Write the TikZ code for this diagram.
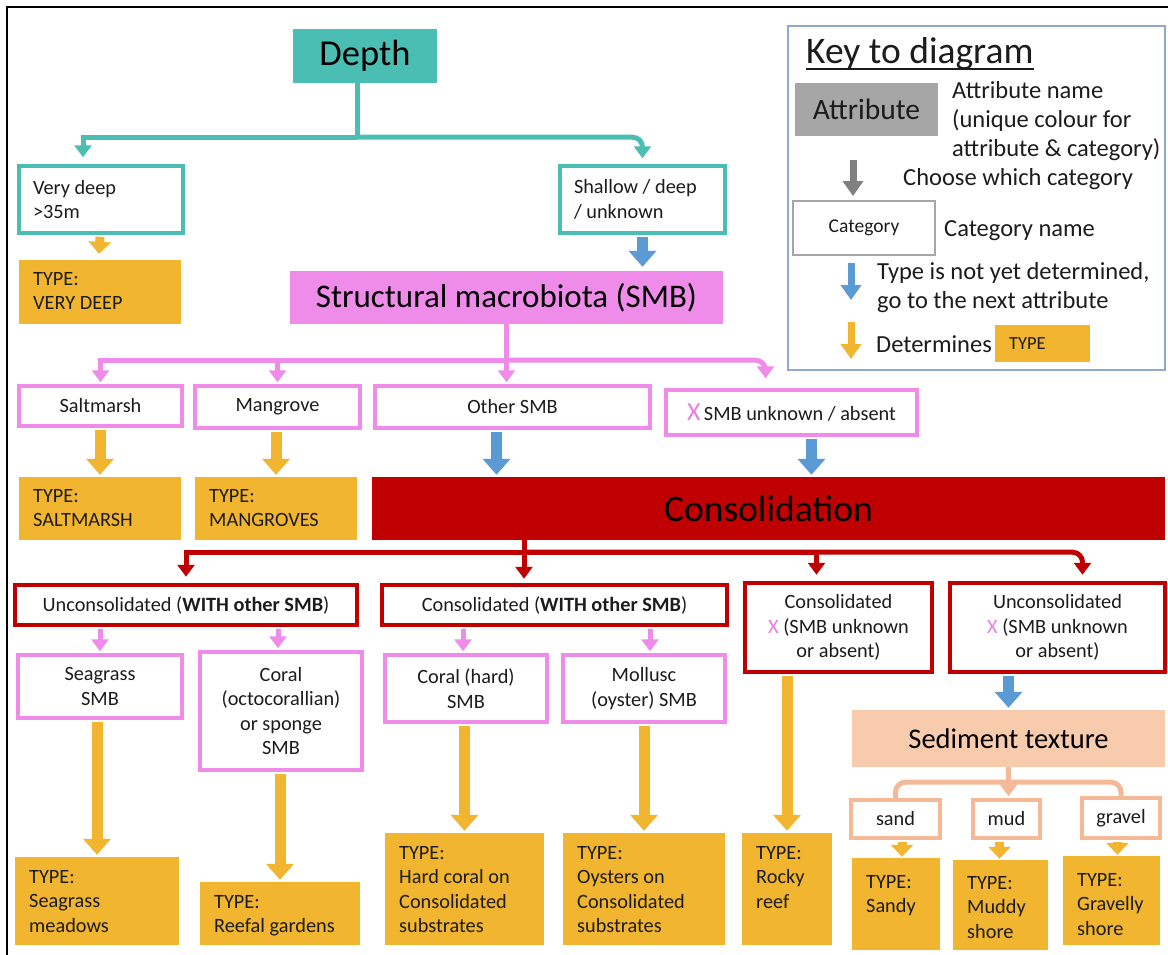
\documentclass[tikz,border=0pt]{standalone}
\usepackage{fontspec}
\setmainfont{Carlito}
\usetikzlibrary{arrows.meta}

\definecolor{ink}{HTML}{1C1C1C}
\definecolor{tealc}{HTML}{4BBEB4}
\definecolor{pinkc}{HTML}{EF8CE9}
\definecolor{pinkx}{HTML}{EA7FE3}
\definecolor{redc}{HTML}{C00000}
\definecolor{peachc}{HTML}{F8CBAD}
\definecolor{peachd}{HTML}{F4BA98}
\definecolor{typec}{HTML}{F1B52F}
\definecolor{bluec}{HTML}{5B9BD5}
\definecolor{greyc}{HTML}{A6A6A6}
\definecolor{greyd}{HTML}{808080}
\definecolor{keyc}{HTML}{8FA8CF}

\newcommand\fsm{\fontsize{20.3}{24.5}\selectfont}
\newcommand\fkey{\fontsize{24.5}{29}\selectfont}

% box from its corners: name, x1, y1, x2, y2, style, text
\newcommand\bx[7]{%
  \pgfmathsetmacro\boxw{#4-#2}%
  \pgfmathsetmacro\boxh{#5-#3}%
  \pgfmathsetmacro\boxtw{#4-#2-28}%
  \node[minimum width=\boxw pt, minimum height=\boxh pt, #6] (#1) at ({(#2+#4)/2},{(#3+#5)/2}) {#7};}
% TYPE box with top-aligned text: name, x1, y1, x2, y2, text offset, text
\newcommand\tb[7]{%
  \bx{#1}{#2}{#3}{#4}{#5}{typefill}{}%
  \node[typetext] (#1t) at (#2+14,#3+#6) {#7};}

\begin{document}
\begin{tikzpicture}[x=1pt,y=-1pt,
  every node/.style={inner sep=0pt, text=ink},
  catbox/.style={draw=#1, fill=white, line width=3.5pt, font=\fsm, align=center},
  lefttext/.style={align=flush left, text width=\boxtw pt, inner xsep=14pt},
  typefill/.style={fill=typec},
  typetext/.style={font=\fsm, align=flush left, anchor=north west},
  link/.style={draw=#1, line width=5pt},
  headed/.style={-{Triangle[width=17pt,length=12pt]}},
  blockarrow/.style={draw=#1, line width=11pt, -{Triangle[width=27pt,length=16pt]}},
  smallblock/.style={draw=#1, line width=9pt, -{Triangle[width=22pt,length=12pt]}},
  keyarrow/.style={draw=#1, line width=7pt, -{Triangle[width=20pt,length=15pt]}},
]
\useasboundingbox (0,0) rectangle (1168,954);
\fill[white] (0,0) rectangle (1168,954);
\draw[line width=2.5pt, black] (7,7) rectangle (1180,970);

% ---------- key ----------
\bx{key}{788}{26}{1165}{370}{draw=keyc, line width=1.5pt}{}
\node[anchor=base west, font=\fontsize{37.5}{44}\selectfont] (keyt) at (806,63) {Key to diagram};
\draw[line width=2.5pt, ink] ([yshift=-6pt]keyt.base west) -- ([yshift=-6pt]keyt.base east);
\bx{kattr}{795}{83}{938}{136}{fill=greyc, font=\fontsize{29.5}{34}\selectfont}{Attribute}
\node[anchor=west, align=flush left, font=\fkey] (kattrt) at (952,121) {Attribute name\\(unique colour for\\attribute \& category)};
\coordinate (kg1) at (853,160); \coordinate (kg2) at (853,196);
\draw[keyarrow=greyd] (kg1) -- (kg2);
\node[anchor=west, font=\fkey] (kchoose) at (903,179) {Choose which category};
\bx{kcat}{793}{201}{935}{255}{draw=greyc, line width=1.2pt, font=\fontsize{19.5}{23}\selectfont}{Category}
\node[anchor=west, font=\fkey] (kcatt) at (944,231) {Category name};
\coordinate (kb1) at (851,263); \coordinate (kb2) at (851,300);
\draw[keyarrow=bluec] (kb1) -- (kb2);
\node[anchor=west, align=flush left, font=\fkey] (kbluet) at (877,288) {Type is not yet determined,\\go to the next attribute};
\coordinate (ko1) at (851,322); \coordinate (ko2) at (851,359);
\draw[keyarrow=typec] (ko1) -- (ko2);
\node[anchor=west, font=\fkey] (kdet) at (876,344) {Determines};
\bx{ktype}{995}{325}{1090}{362}{fill=typec, lefttext, font=\fontsize{18.5}{22}\selectfont}{TYPE}

% ---------- depth ----------
\bx{depth}{293}{29}{437}{83}{fill=tealc, font=\fontsize{36.5}{42}\selectfont, text=black}{Depth}
\bx{vdeep}{19}{166}{183}{233}{catbox=tealc, lefttext}{Very deep\\>35m}
\bx{shallow}{560}{166}{725}{233}{catbox=tealc, lefttext}{Shallow / deep\\/ unknown}
\tb{tvdeep}{19}{260}{181}{324}{12}{TYPE:\\VERY DEEP}
\bx{smb}{290}{271}{723}{324}{fill=pinkc, font=\fontsize{33}{40}\selectfont, text=black}{Structural macrobiota (SMB)}

\draw[link=tealc] ([xshift=-8pt]depth.south) -- ++(0,54) coordinate (dj);
\draw[link=tealc, headed] (dj) -| ([xshift=-18pt,yshift=7pt]vdeep.north);
\draw[link=tealc, headed, rounded corners=10pt] (dj) -| ([yshift=6pt]shallow.north);
\draw[smallblock=typec] ([xshift=-1pt,yshift=-2pt]vdeep.south) -- ([xshift=-1pt,yshift=6pt]tvdeep.north);
\draw[blockarrow=bluec] ([yshift=-2pt]shallow.south) -- ([yshift=4pt]shallow.south |- smb.north);

% ---------- structural macrobiota ----------
\bx{salt}{19}{386}{182}{426}{catbox=pinkc}{Saltmarsh}
\bx{mang}{195}{386}{360}{428}{catbox=pinkc}{Mangrove}
\bx{other}{375}{386}{650}{428}{catbox=pinkc}{Other SMB}
\bx{xsmb}{666}{390}{917}{435}{catbox=pinkc}{{\color{pinkx}\fontsize{26}{26}\selectfont X}\,SMB unknown / absent}
\tb{tsalt}{19}{477}{181}{540}{12}{TYPE:\\SALTMARSH}
\tb{tmang}{195}{477}{357}{540}{12}{TYPE:\\MANGROVES}
\bx{cons}{372}{477}{1165}{540}{fill=redc, font=\fontsize{37.5}{44}\selectfont, text=black}{Consolidation}

\draw[link=pinkc] (smb.south) -- ++(0,36) coordinate (sj);
\draw[link=pinkc, headed] (sj) -| ([yshift=2pt]salt.north);
\draw[link=pinkc, headed] (sj) -| ([yshift=2pt]mang.north);
\draw[link=pinkc, headed] (sj) -- ([yshift=2pt]sj |- other.north);
\draw[link=pinkc, headed, rounded corners=10pt] (sj) -| ([xshift=-26pt,yshift=10pt]xsmb.north);
\draw[blockarrow=typec] ([yshift=-2pt]tsalt.north |- salt.south) -- ([yshift=2pt]tsalt.north);
\draw[blockarrow=typec] ([yshift=-2pt]tmang.north |- mang.south) -- ([yshift=2pt]tmang.north);
\draw[blockarrow=bluec] ([xshift=-16pt,yshift=-2pt]other.south) -- ([xshift=-16pt,yshift=2pt]other.south |- cons.north);
\draw[blockarrow=bluec] ([xshift=20pt,yshift=-2pt]xsmb.south) -- ([xshift=20pt,yshift=2pt]xsmb.south |- cons.north);

% ---------- consolidation ----------
\bx{uw}{15}{585}{357}{625}{catbox=redc, line width=4.5pt}{Unconsolidated (\textbf{WITH other SMB})}
\bx{cw}{382}{585}{727}{625}{catbox=redc, line width=4.5pt}{Consolidated (\textbf{WITH other SMB})}
\bx{cx}{745}{583}{932}{672}{catbox=redc, line width=4.5pt}{Consolidated\\{\color{pinkx}X} (SMB unknown\\or absent)}
\bx{ux}{950}{583}{1165}{672}{catbox=redc, line width=4.5pt}{Unconsolidated\\{\color{pinkx}X} (SMB unknown\\or absent)}

\draw[link=redc] ([xshift=-244.5pt]cons.south) -- ++(0,12) coordinate (cj);
\draw[link=redc, headed] (cj) -| ([yshift=6pt]uw.north);
\draw[link=redc, headed] (cj) -- ([yshift=4pt]cj |- cw.north);
\draw[link=redc, headed] (cj) -| ([xshift=-22pt,yshift=6pt]cx.north);
\draw[link=redc, headed, rounded corners=10pt] (cj) -| ([xshift=25pt,yshift=6pt]ux.north);

\bx{seag}{18}{655}{182}{718}{catbox=pinkc}{Seagrass\\SMB}
\bx{coct}{200}{652}{362}{770}{catbox=pinkc}{Coral\\(octocorallian)\\or sponge\\SMB}
\bx{chard}{385}{655}{547}{722}{catbox=pinkc}{Coral (hard)\\SMB}
\bx{moll}{563}{655}{725}{722}{catbox=pinkc}{Mollusc\\(oyster) SMB}

\draw[link=pinkc, headed] ([yshift=-2pt]seag.north |- uw.south) -- ([yshift=2pt]seag.north);
\draw[link=pinkc, headed] ([xshift=-3pt,yshift=-2pt]coct.north |- uw.south) -- ([xshift=-3pt,yshift=2pt]coct.north);
\draw[link=pinkc, headed] ([xshift=-3pt,yshift=-2pt]chard.north |- cw.south) -- ([xshift=-3pt,yshift=2pt]chard.north);
\draw[link=pinkc, headed] ([xshift=6pt,yshift=-2pt]moll.north |- cw.south) -- ([xshift=6pt,yshift=2pt]moll.north);

\tb{tsea}{15}{857}{179}{945}{13}{TYPE:\\Seagrass\\meadows}
\tb{treef}{200}{882}{360}{945}{13}{TYPE:\\Reefal gardens}
\tb{thard}{385}{833}{544}{945}{13}{TYPE:\\Hard coral on\\Consolidated\\substrates}
\tb{toys}{563}{833}{725}{945}{13}{TYPE:\\Oysters on\\Consolidated\\substrates}
\tb{trock}{742}{833}{832}{945}{13}{TYPE:\\Rocky\\reef}

\draw[blockarrow=typec] ([yshift=-2pt]tsea.north |- seag.south) -- ([yshift=2pt]tsea.north);
\draw[blockarrow=typec] ([yshift=-2pt]treef.north |- coct.south) -- ([yshift=2pt]treef.north);
\draw[blockarrow=typec] ([yshift=-2pt]thard.north |- chard.south) -- ([yshift=2pt]thard.north);
\draw[blockarrow=typec] ([yshift=-2pt]toys.north |- moll.south) -- ([yshift=2pt]toys.north);
\draw[blockarrow=typec] ([yshift=-2pt]trock.north |- cx.south) -- ([yshift=2pt]trock.north);

% ---------- sediment texture ----------
\bx{sed}{852}{710}{1165}{767}{fill=peachc, font=\fontsize{28.5}{34}\selectfont, text=black}{Sediment texture}
\draw[blockarrow=bluec] ([yshift=-2pt]sed.north |- ux.south) -- ([yshift=2pt]sed.north);

\bx{sand}{851}{800}{940}{838}{catbox=peachd}{sand}
\bx{mud}{973}{800}{1040}{838}{catbox=peachd}{mud}
\bx{grav}{1082}{798}{1160}{838}{catbox=peachd}{gravel}

\draw[link=peachd] (sed.south) -- ++(0,15) coordinate (pj);
\draw[link=peachd, rounded corners=10pt] (pj) -| (sand.north);
\draw[link=peachd, rounded corners=10pt] (pj) -| (grav.north);
\draw[link=peachd, headed] (pj) -- ([yshift=2pt]pj |- mud.north);

\tb{tsand}{852}{858}{940}{950}{17}{TYPE:\\Sandy}
\tb{tmud}{953}{860}{1048}{950}{16}{TYPE:\\Muddy\\shore}
\tb{tgrav}{1063}{856}{1160}{945}{17}{TYPE:\\Gravelly\\shore}

\draw[smallblock=typec] ([xshift=6pt,yshift=-2pt]tsand.north |- sand.south) -- ([xshift=6pt,yshift=1pt]tsand.north);
\draw[smallblock=typec] ([xshift=-1pt,yshift=-2pt]tmud.north |- mud.south) -- ([xshift=-1pt,yshift=1pt]tmud.north);
\draw[smallblock=typec] ([xshift=6pt,yshift=-2pt]tgrav.north |- grav.south) -- ([xshift=6pt,yshift=1pt]tgrav.north);
\end{tikzpicture}
\end{document}
